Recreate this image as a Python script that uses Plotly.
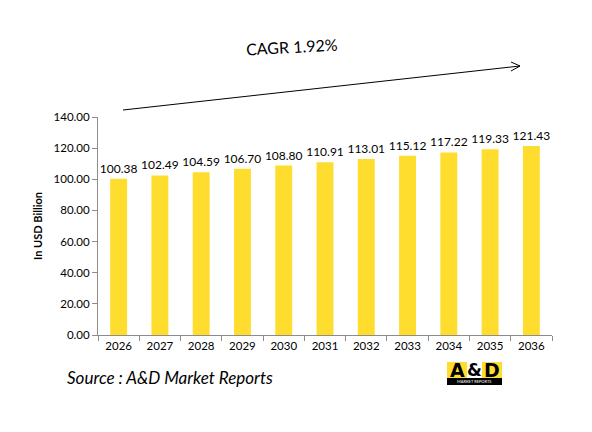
import plotly.graph_objects as go

years = ['2026', '2027', '2028', '2029', '2030', '2031', '2032', '2033', '2034', '2035', '2036']
market_size = [100.38, 102.49, 104.59, 106.70, 108.80, 110.91, 113.01, 115.12, 117.22, 119.33, 121.43]
y_ticks = [0, 20, 40, 60, 80, 100, 120, 140]

# the page body has an 8px margin, so the figure is drawn 16px smaller
OFF = 8
W, H = 592 - 2 * OFF, 432 - 2 * OFF
L, R, T, B = 98, 552, 117, 335  # plot area in window px


def px(x):
    return (x - L) / (R - L)


def py(y):
    return (B - y) / (B - T)


font = 'Lato, Carlito, Liberation Sans, sans-serif'

fig = go.Figure(go.Bar(
    x=years, y=market_size,
    marker=dict(color='#FFDD2E', line=dict(width=0)),
    texttemplate='%{y:.2f}', textposition='outside', constraintext='none',
    textfont=dict(size=12, color='black', family=font),
    cliponaxis=False, width=0.41,
))

fig.update_layout(
    width=W, height=H,
    margin=dict(l=L - OFF, r=W + OFF - R, t=T - OFF, b=H + OFF - B),
    plot_bgcolor='white', paper_bgcolor='white',
    font=dict(family=font, color='black'),
    showlegend=False,
)

fig.update_xaxes(
    automargin=False,
    showline=True, linecolor='#8c8c8c', linewidth=1,
    ticks='outside', tickson='boundaries', ticklen=5, tickcolor='#8c8c8c',
    tickfont=dict(size=11.5), showgrid=False,
)
fig.update_yaxes(
    automargin=False,
    range=[0, 140], tickvals=y_ticks, tickformat='.2f',
    showline=True, linecolor='#8c8c8c', linewidth=1,
    ticks='outside', ticklen=5, tickcolor='#8c8c8c',
    tickfont=dict(size=11.5), showgrid=False, zeroline=False,
    title=dict(text='<b>In USD Billion</b>', font=dict(size=11), standoff=8),
)

# CAGR arrow
line = dict(color='black', width=1)
shapes = [
    dict(type='line', xref='paper', yref='paper', x0=px(123), y0=py(110), x1=px(520), y1=py(66), line=line),
    dict(type='line', xref='paper', yref='paper', x0=px(511), y0=py(62), x1=px(520), y1=py(66), line=line),
    dict(type='line', xref='paper', yref='paper', x0=px(511), y0=py(71), x1=px(520), y1=py(66), line=line),
]

# logo
shapes += [
    dict(type='rect', xref='paper', yref='paper', x0=px(447), x1=px(467), y0=py(378), y1=py(362),
         fillcolor='#FFDD2E', line=dict(width=0)),
    dict(type='rect', xref='paper', yref='paper', x0=px(467), x1=px(482), y0=py(378), y1=py(362),
         fillcolor='white', line=dict(width=0)),
    dict(type='rect', xref='paper', yref='paper', x0=px(482), x1=px(502), y0=py(378), y1=py(362),
         fillcolor='#FFDD2E', line=dict(width=0)),
    dict(type='rect', xref='paper', yref='paper', x0=px(447), x1=px(502), y0=py(385), y1=py(378),
         fillcolor='black', line=dict(width=0)),
]
fig.update_layout(shapes=shapes)

annotations = [
    dict(text='CAGR 1.92%', x=px(292), y=py(46), textangle=-3, font=dict(size=16)),
    dict(text='<i>Source : A&D Market Reports</i>', x=px(65), y=py(377), xanchor='left',
         font=dict(size=17)),
    dict(text='<b>A</b>', x=px(457), y=py(370), font=dict(size=19, family='DejaVu Sans')),
    dict(text='<b>&</b>', x=px(474.5), y=py(370), font=dict(size=17, family='DejaVu Sans')),
    dict(text='<b>D</b>', x=px(492), y=py(370), font=dict(size=19, family='DejaVu Sans')),
    dict(text='MARKET REPORTS', x=px(474.5), y=py(381.5), font=dict(size=4, color='white')),
]
for a in annotations:
    a.setdefault('xanchor', 'center')
    a.update(xref='paper', yref='paper', yanchor='middle', showarrow=False)
fig.update_layout(annotations=annotations)

fig.write_html('out.html')
